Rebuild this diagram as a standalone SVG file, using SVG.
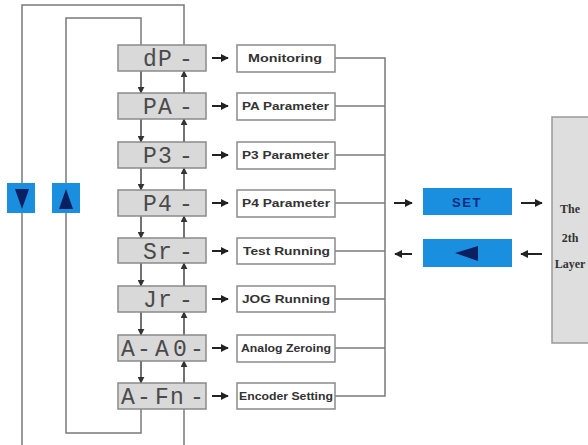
<svg xmlns="http://www.w3.org/2000/svg" width="588" height="445" viewBox="0 0 588 445">
<defs>
<marker id="ah" viewBox="0 0 10 10" refX="9" refY="5" markerWidth="7" markerHeight="7" markerUnits="userSpaceOnUse" orient="auto">
<path d="M0,0 L10,5 L0,10 z" fill="#333"/>
</marker>
<marker id="ahb" viewBox="0 0 10 10" refX="9" refY="5" markerWidth="8" markerHeight="8" markerUnits="userSpaceOnUse" orient="auto">
<path d="M0,0 L10,5 L0,10 z" fill="#222"/>
</marker>
<style>
.ln{fill:none;stroke:#7a7a7a;stroke-width:1.5}
.ar{fill:none;stroke:#444;stroke-width:1.5;marker-end:url(#ah)}
.sa{fill:none;stroke:#222;stroke-width:2;marker-end:url(#ahb)}
.disp{fill:#d9d9d9;stroke:#8a8a8a;stroke-width:1.5}
.dt{font-family:"Liberation Mono","DejaVu Sans Mono",monospace;font-size:23px;fill:#4a4a4a}
.lb{fill:#fff;stroke:#8a8a8a;stroke-width:1.5}
.lt{font-family:"Liberation Sans",Arial,sans-serif;font-weight:bold;font-size:10px;fill:#333}
.blue{fill:#1a8fe0}
.navy{fill:#0b2060}
.gt{font-family:"Liberation Serif","Times New Roman",serif;font-weight:bold;font-size:12px;fill:#333;text-anchor:middle}
</style>
</defs>
<rect width="588" height="445" fill="#fff"/>

<g id="connectors">
<path class="ln" d="M22,445 L22,5 L184,5 L184,45"/>
<path class="ln" d="M184,409 L184,445"/>
<path class="ln" d="M141,45 L141,18 L66,18 L66,433 L141,433 L141,409"/>
<path class="ar" d="M141,71 L141,93"/>
<path class="ar" d="M141,119 L141,142"/>
<path class="ar" d="M141,168 L141,190"/>
<path class="ar" d="M141,216 L141,238"/>
<path class="ar" d="M141,263 L141,286"/>
<path class="ar" d="M141,312 L141,335"/>
<path class="ar" d="M141,361 L141,383"/>
<path class="ar" d="M184,93 L184,71"/>
<path class="ar" d="M184,142 L184,119"/>
<path class="ar" d="M184,190 L184,168"/>
<path class="ar" d="M184,238 L184,216"/>
<path class="ar" d="M184,286 L184,263"/>
<path class="ar" d="M184,335 L184,312"/>
<path class="ar" d="M184,383 L184,361"/>
<path class="sa" d="M212,58 L228,58"/>
<path class="sa" d="M212,106 L228,106"/>
<path class="sa" d="M212,155 L228,155"/>
<path class="sa" d="M212,203 L228,203"/>
<path class="sa" d="M212,251 L228,251"/>
<path class="sa" d="M212,299 L228,299"/>
<path class="sa" d="M212,348 L228,348"/>
<path class="sa" d="M212,396 L228,396"/>
<path class="ln" d="M335,58 L385,58 L385,396 L335,396"/>
<path class="ln" d="M335,106 L385,106"/>
<path class="ln" d="M335,155 L385,155"/>
<path class="ln" d="M335,203 L385,203"/>
<path class="ln" d="M335,251 L385,251"/>
<path class="ln" d="M335,299 L385,299"/>
<path class="ln" d="M335,348 L385,348"/>
<path class="sa" d="M394,203 L412,203"/>
<path class="sa" d="M412,254 L395,254"/>
<path class="sa" d="M521,203 L542,203"/>
<path class="sa" d="M542,254 L521,254"/>
</g>

<g id="btn-down"><rect class="blue" x="7" y="183" width="28" height="30"/><polygon class="navy" points="15,189 29,189 22,209"/></g>
<g id="btn-up"><rect class="blue" x="52" y="183" width="28" height="30"/><polygon class="navy" points="59,209 73,209 66,189"/></g>

<g id="d-dP"><rect class="disp" x="118" y="45" width="88" height="26"/><text class="dt" x="143 158 179" y="66">dP-</text></g>
<g id="d-PA"><rect class="disp" x="118" y="93" width="88" height="26"/><text class="dt" x="143 158 179" y="114">PA-</text></g>
<g id="d-P3"><rect class="disp" x="118" y="142" width="88" height="26"/><text class="dt" x="143 158 179" y="163">P3-</text></g>
<g id="d-P4"><rect class="disp" x="118" y="190" width="88" height="26"/><text class="dt" x="143 158 179" y="211">P4-</text></g>
<g id="d-Sr"><rect class="disp" x="118" y="238" width="88" height="25"/><text class="dt" x="143 158 179" y="259">Sr-</text></g>
<g id="d-Jr"><rect class="disp" x="118" y="286" width="88" height="26"/><text class="dt" x="143 158 179" y="307">Jr-</text></g>
<g id="d-AAD"><rect class="disp" x="118" y="335" width="88" height="26"/><text class="dt" x="121 137 155 173 190" y="356">A-A0-</text></g>
<g id="d-AFn"><rect class="disp" x="118" y="383" width="88" height="26"/><text class="dt" x="121 137 155 170 190" y="404">A-Fn-</text></g>

<g id="l-mon"><rect class="lb" x="237" y="45" width="98" height="27"/><text class="lt" x="248" y="62" textLength="74" lengthAdjust="spacingAndGlyphs">Monitoring</text></g>
<g id="l-pa"><rect class="lb" x="237" y="93" width="98" height="27"/><text class="lt" x="242" y="110" textLength="87" lengthAdjust="spacingAndGlyphs">PA Parameter</text></g>
<g id="l-p3"><rect class="lb" x="237" y="142" width="98" height="27"/><text class="lt" x="242" y="159" textLength="87" lengthAdjust="spacingAndGlyphs">P3 Parameter</text></g>
<g id="l-p4"><rect class="lb" x="237" y="190" width="98" height="27"/><text class="lt" x="242" y="207" textLength="88" lengthAdjust="spacingAndGlyphs">P4 Parameter</text></g>
<g id="l-test"><rect class="lb" x="237" y="238" width="98" height="26"/><text class="lt" x="243" y="255" textLength="87" lengthAdjust="spacingAndGlyphs">Test Running</text></g>
<g id="l-jog"><rect class="lb" x="237" y="286" width="98" height="26"/><text class="lt" x="242" y="303" textLength="88" lengthAdjust="spacingAndGlyphs">JOG Running</text></g>
<g id="l-ana"><rect class="lb" x="237" y="335" width="98" height="27"/><text class="lt" x="241" y="352" textLength="90" lengthAdjust="spacingAndGlyphs">Analog Zeroing</text></g>
<g id="l-enc"><rect class="lb" x="237" y="383" width="98" height="26"/><text class="lt" x="239" y="400" textLength="94" lengthAdjust="spacingAndGlyphs">Encoder Setting</text></g>

<g id="set"><rect class="blue" x="423" y="188" width="89" height="27"/><text x="467" y="207" text-anchor="middle" font-family="Liberation Sans, Arial, sans-serif" font-weight="bold" font-size="13" letter-spacing="1.5" fill="#0b2a80">SET</text></g>
<g id="back"><rect class="blue" x="423" y="239" width="89" height="28"/><polygon class="navy" points="455,253 478,246 478,261"/></g>

<g id="layer2"><rect x="552" y="117" width="50" height="226" fill="#dedede" stroke="#999" stroke-width="1.5"/>
<text class="gt" x="570" y="213">The</text>
<text class="gt" x="570" y="242">2th</text>
<text class="gt" x="570" y="268">Layer</text></g>
</svg>
